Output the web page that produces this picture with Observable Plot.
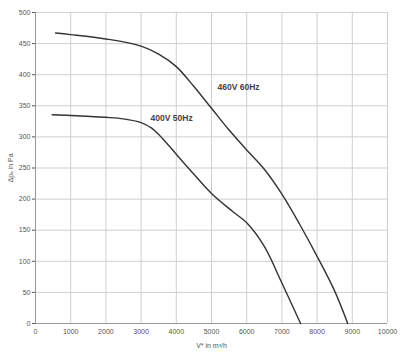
<!DOCTYPE html>
<html><head><meta charset="utf-8">
<script src="https://cdn.jsdelivr.net/npm/d3@7"></script>
<script src="https://cdn.jsdelivr.net/npm/@observablehq/plot@0.6"></script>
<style>
body{margin:0;background:#fff;}
svg{font-family:"Liberation Sans",Arial,sans-serif;}
</style></head>
<body><div id="chart"></div>
<script>
const flow460 = [570,1000,2000,3000,3500,4000,4500,5000,5500,6000,6500,7000,7500,8000,8500,8870];
const pres460 = [467,464.5,457.5,446,433,413,381,346,311,279,248,208,160,108,52,0];
const flow400 = [474,1000,2000,2500,3000,3300,3600,4000,4500,5000,5600,6000,6500,7000,7530];
const pres400 = [335.5,334.5,331.5,329,323,314,298,272,240,209,180,162,124,65,0];
const labels = [{x:5170,y:379,t:"460V 60Hz"},{x:3270,y:330,t:"400V 50Hz"}];
const xTicks = d3.range(0,10001,1000);
const yTicks = d3.range(0,501,50);

const s460 = flow460.map((x,i)=>({x,y:pres460[i]}));
const s400 = flow400.map((x,i)=>({x,y:pres400[i]}));

const chart = Plot.plot({
  width:404, height:353,
  marginLeft:35, marginRight:17, marginTop:12, marginBottom:30,
  style:{fontSize:"7px", color:"#555", background:"#fff"},
  x:{domain:[0,10000], ticks:xTicks, tickFormat:d=>String(d), label:"V* in m³/h", labelAnchor:"center", labelArrow:"none", labelOffset:24, tickSize:0, tickPadding:6},
  y:{domain:[0,500], ticks:yTicks, tickFormat:d=>String(d), label:"Δpₐ in Pa", labelAnchor:"center", labelArrow:"none", labelOffset:27, tickSize:3, tickPadding:2},
  marks:[
    Plot.gridX(xTicks,{stroke:"#cfcfcf", strokeOpacity:1}),
    Plot.gridY(yTicks,{stroke:"#cfcfcf", strokeOpacity:1}),
    Plot.ruleX([0],{stroke:"#999"}),
    Plot.ruleY([0],{stroke:"#999"}),
    Plot.line(s460,{x:"x",y:"y",curve:"catmull-rom",stroke:"#333",strokeWidth:1.4}),
    Plot.line(s400,{x:"x",y:"y",curve:"catmull-rom",stroke:"#333",strokeWidth:1.4}),
    Plot.text(labels,{x:"x",y:"y",text:"t",textAnchor:"start",fontSize:8.5,fontWeight:"bold",fill:"#444"})
  ]
});
document.getElementById("chart").appendChild(chart);
</script></body></html>
